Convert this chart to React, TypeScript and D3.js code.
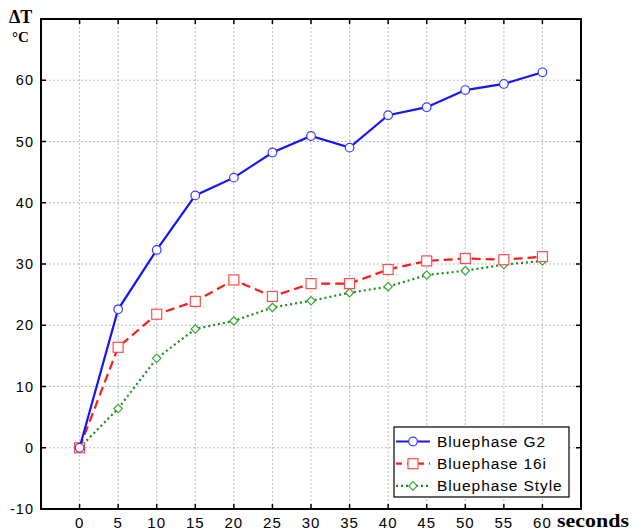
import React, { useEffect, useRef } from 'react';
import * as d3 from 'd3';

// Temperature rise (ΔT, °C) against exposure time for three curing lights.
const seconds = [0, 5, 10, 15, 20, 25, 30, 35, 40, 45, 50, 55, 60];
const g2 = [0, 22.6, 32.3, 41.2, 44.1, 48.2, 50.9, 49.0, 54.3, 55.6, 58.4, 59.4, 61.3];
const b16i = [0, 16.4, 21.8, 23.9, 27.4, 24.7, 26.8, 26.8, 29.1, 30.5, 30.9, 30.7, 31.2];
const style = [0, 6.4, 14.6, 19.4, 20.7, 22.9, 24.0, 25.3, 26.3, 28.2, 28.9, 29.9, 30.5];
const seriesNames = ['Bluephase G2', 'Bluephase 16i', 'Bluephase Style'];
const yTicks = [-10, 0, 10, 20, 30, 40, 50, 60];
const yGrid = [-10, 0, 10, 20, 30, 40, 50, 60, 70];

const W = 634;
const H = 530;
const LEFT = 41;
const RIGHT = 581;
const TOP = 19;
const BOTTOM = 509;

const App = () => {
  const ref = useRef<SVGSVGElement>(null);

  useEffect(() => {
    const svg = d3.select(ref.current).attr('width', W).attr('height', H);
    svg.selectAll('*').remove();
    svg.append('rect').attr('width', W).attr('height', H).attr('fill', 'white');

    const x = d3.scaleLinear().domain([-5, 65]).range([LEFT, RIGHT]);
    const y = d3.scaleLinear().domain([-10, 70]).range([BOTTOM, TOP]);

    // dotted grid
    const grid = svg.append('g').attr('stroke', '#bdbdbd').attr('stroke-width', 1).style('stroke-dasharray', '2,2');
    grid
      .selectAll('line.v')
      .data(seconds)
      .enter()
      .append('line')
      .attr('x1', (d) => x(d))
      .attr('x2', (d) => x(d))
      .attr('y1', TOP)
      .attr('y2', BOTTOM);
    grid
      .selectAll('line.h')
      .data(yGrid)
      .enter()
      .append('line')
      .attr('x1', LEFT)
      .attr('x2', RIGHT)
      .attr('y1', (d) => y(d))
      .attr('y2', (d) => y(d));

    // inner ticks on all four sides
    const ticks = svg.append('g').attr('stroke', '#000').attr('stroke-width', 1.5);
    seconds.forEach((s) => {
      ticks.append('line').attr('x1', x(s)).attr('x2', x(s)).attr('y1', TOP).attr('y2', TOP + 5);
      ticks.append('line').attr('x1', x(s)).attr('x2', x(s)).attr('y1', BOTTOM).attr('y2', BOTTOM - 5);
    });
    yGrid.forEach((v) => {
      ticks.append('line').attr('x1', LEFT).attr('x2', LEFT + 5).attr('y1', y(v)).attr('y2', y(v));
      ticks.append('line').attr('x1', RIGHT).attr('x2', RIGHT - 5).attr('y1', y(v)).attr('y2', y(v));
    });

    // tick labels
    svg
      .append('g')
      .selectAll('text')
      .data(yTicks)
      .enter()
      .append('text')
      .attr('x', 34)
      .attr('y', (d) => y(d) + 5)
      .attr('text-anchor', 'end')
      .attr('font-family', 'Liberation Sans, Arial, sans-serif')
      .attr('font-size', 14.5)
      .attr('letter-spacing', 1)
      .text((d) => d);
    svg
      .append('g')
      .selectAll('text')
      .data(seconds)
      .enter()
      .append('text')
      .attr('x', (d) => x(d))
      .attr('y', 528)
      .attr('text-anchor', 'middle')
      .attr('font-family', 'Liberation Sans, Arial, sans-serif')
      .attr('font-size', 15)
      .attr('letter-spacing', 1)
      .text((d) => d);

    // axis titles
    svg
      .append('text')
      .attr('x', 9)
      .attr('y', 23)
      .attr('font-family', 'Liberation Serif, Times New Roman, serif')
      .attr('font-weight', 'bold')
      .attr('font-size', 18)
      .text('ΔT');
    svg
      .append('text')
      .attr('x', 12)
      .attr('y', 42)
      .attr('font-family', 'Liberation Serif, Times New Roman, serif')
      .attr('font-weight', 'bold')
      .attr('font-size', 15)
      .text('°C');
    svg
      .append('text')
      .attr('x', 557)
      .attr('y', 527)
      .attr('font-family', 'Liberation Serif, Times New Roman, serif')
      .attr('font-weight', 'bold')
      .attr('font-size', 18)
      .attr('textLength', 72)
      .attr('lengthAdjust', 'spacingAndGlyphs')
      .text('seconds');

    const series = [
      { name: seriesNames[0], values: g2, color: '#1414ff', marker: '#3a3aff', dash: null, shape: 'circle' },
      { name: seriesNames[1], values: b16i, color: '#ff1a1a', marker: '#ff4d4d', dash: '9,5', shape: 'square' },
      { name: seriesNames[2], values: style, color: '#1a8c1a', marker: '#33a833', dash: '2,3', shape: 'diamond' },
    ];

    const line = d3
      .line<number>()
      .x((_, i) => x(seconds[i]))
      .y((d) => y(d));

    const drawMarker = (g, shape, cx, cy, color) => {
      if (shape === 'circle') {
        g.append('circle').attr('cx', cx).attr('cy', cy).attr('r', 4.3)
          .attr('fill', 'white').attr('stroke', color).attr('stroke-width', 1.2);
      } else if (shape === 'square') {
        g.append('rect').attr('x', cx - 5).attr('y', cy - 5).attr('width', 10).attr('height', 10)
          .attr('fill', 'white').attr('stroke', color).attr('stroke-width', 1.2);
      } else {
        const r = 4.2;
        g.append('path')
          .attr('d', `M${cx},${cy - r}L${cx + r},${cy}L${cx},${cy + r}L${cx - r},${cy}Z`)
          .attr('fill', 'white').attr('stroke', color).attr('stroke-width', 1.2);
      }
    };

    // draw green first so blue sits on top, as in the figure
    [...series].reverse().forEach((s) => {
      const g = svg.append('g');
      const p = g
        .append('path')
        .datum(s.values)
        .attr('fill', 'none')
        .attr('stroke', s.color)
        .attr('stroke-width', 2.2)
        .attr('d', line);
      if (s.dash) p.style('stroke-dasharray', s.dash);
      s.values.forEach((v, i) => drawMarker(g, s.shape, x(seconds[i]), y(v), s.marker));
    });

    // frame
    svg
      .append('rect')
      .attr('x', LEFT)
      .attr('y', TOP)
      .attr('width', RIGHT - LEFT)
      .attr('height', BOTTOM - TOP)
      .attr('fill', 'none')
      .attr('stroke', '#000')
      .attr('stroke-width', 2);

    // legend
    const lg = svg.append('g');
    lg.append('rect')
      .attr('x', 394)
      .attr('y', 427)
      .attr('width', 175)
      .attr('height', 70)
      .attr('fill', 'white')
      .attr('stroke', '#000')
      .attr('stroke-width', 1.2);
    series.forEach((s, i) => {
      const ry = 441.5 + i * 22.2;
      const l = lg
        .append('line')
        .attr('x1', 396)
        .attr('x2', 430)
        .attr('y1', ry)
        .attr('y2', ry)
        .attr('stroke', s.color)
        .attr('stroke-width', 2.2);
      if (s.dash) l.style('stroke-dasharray', s.dash === '9,5' ? '6,5' : s.dash);
      drawMarker(lg, s.shape, 413, ry, s.marker);
      lg.append('text')
        .attr('x', 437)
        .attr('y', ry + 5.5)
        .attr('font-family', 'Liberation Sans, Arial, sans-serif')
        .attr('font-size', 15.5)
        .attr('letter-spacing', 0.9)
        .text(s.name);
    });
  }, []);

  return <svg ref={ref} style={{ position: 'absolute', left: 0, top: 0, display: 'block' }} />;
};

export default App;
